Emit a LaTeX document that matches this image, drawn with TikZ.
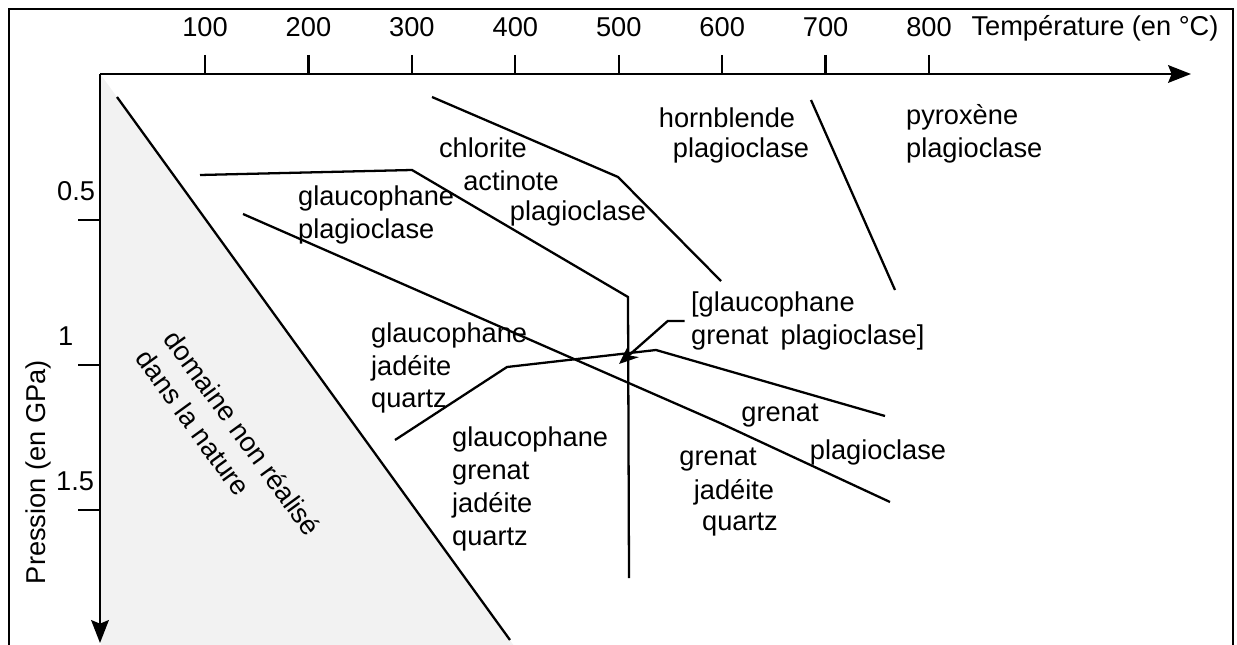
\documentclass[tikz,border=0pt]{standalone}
\usepackage{fontspec}
\setmainfont{Liberation Sans}
\usetikzlibrary{arrows.meta}

\begin{document}
\begin{tikzpicture}[x=0.02cm, y=-0.02cm, >=Stealth, line width=1.3pt,
  lbl/.style={font=\fontsize{15.5}{18.7}\selectfont, inner sep=0pt},
  blk/.style={lbl, align=left, anchor=west},
  axis/.style={line width=1.5pt, -{Stealth[length=13pt, width=10pt, inset=2pt]}}]
  \clip (0,0) rectangle (1237,645);
  % frame and shaded domain
  \draw[line width=1.3pt] (9,660) -- (9,9) -- (1233,9) -- (1233,660);
  \fill[black!5] (101,75) -- (101,650) -- (517,650) -- cycle;
  % axes
  \draw[axis] (100,74) -- (1191,74);
  \draw[axis] (100,74) -- (100,643);
  \foreach \t in {100,200,...,800} {
    \draw (101.6+1.0343*\t,55) -- (101.6+1.0343*\t,74);
    \node[lbl] (t\t) at (101.6+1.0343*\t,27) {\t};
  }
  \node[lbl] (tlab) at (1095,28) {Température (en °C)};
  \foreach \p in {0.5,1,1.5}
    \draw (78,75+290*\p) -- (100,75+290*\p);
  \node[lbl, anchor=west] (p05) at (56,191) {0.5};
  \node[lbl, anchor=west] (p10) at (57,336) {1};
  \node[lbl, anchor=west] (p15) at (55,481) {1.5};
  \node[lbl, rotate=90] (plab) at (38,472) {Pression (en GPa)};
  % boundaries
  \draw (117,97) -- (510,640);
  \draw (200,175) -- (412,170) -- (628,297) -- (629,578);
  \draw (243,214) -- (720,423) -- (890,502);
  \draw (432,97) -- (618,177) -- (721,281);
  \draw (811,100) -- (895,290);
  \draw (395,440) -- (507,367) -- (656,350) -- (885,416);
  % fields
  \node[lbl, rotate=-54, anchor=west] (dom1) at (170,333) {domaine non réalisé};
  \node[lbl, rotate=-54, anchor=west] (dom2) at (142,352) {dans la nature};
  \node[lbl] (chl1) at (483,148) {chlorite};
  \node[lbl] (chl2) at (511,181) {actinote};
  \node[lbl] (chl3) at (578,213) {plagioclase};
  \node[lbl] (hb1) at (727,118) {hornblende};
  \node[lbl] (hb2) at (741,150) {plagioclase};
  \node[blk] (px) at (905,134) {pyroxène\\plagioclase};
  \node[blk] (gp) at (297,215) {glaucophane\\plagioclase};
  \node[blk] (ggp) at (690,321) {[glaucophane\\grenat\hspace{0.45em}plagioclase]};
  \node[blk] (gjq) at (370,368) {glaucophane\\jadéite\\quartz};
  \node[blk] (ggjq) at (451,489) {glaucophane\\grenat\\jadéite\\quartz};
  \node[lbl] (gr1) at (780,416) {grenat};
  \node[lbl] (gr2) at (878,452) {plagioclase};
  \node[lbl] (gjq1) at (718,460) {grenat};
  \node[lbl] (gjq2) at (734,492) {jadéite};
  \node[lbl] (gjq3) at (740,525) {quartz};
  % triple point
  \coordinate (star) at (619,364);
  \draw[-{Stealth[length=11pt, width=9pt]}] ([xshift=-3pt]ggp.west) -- ++(-17,0) -- (star);
\end{tikzpicture}
\end{document}
